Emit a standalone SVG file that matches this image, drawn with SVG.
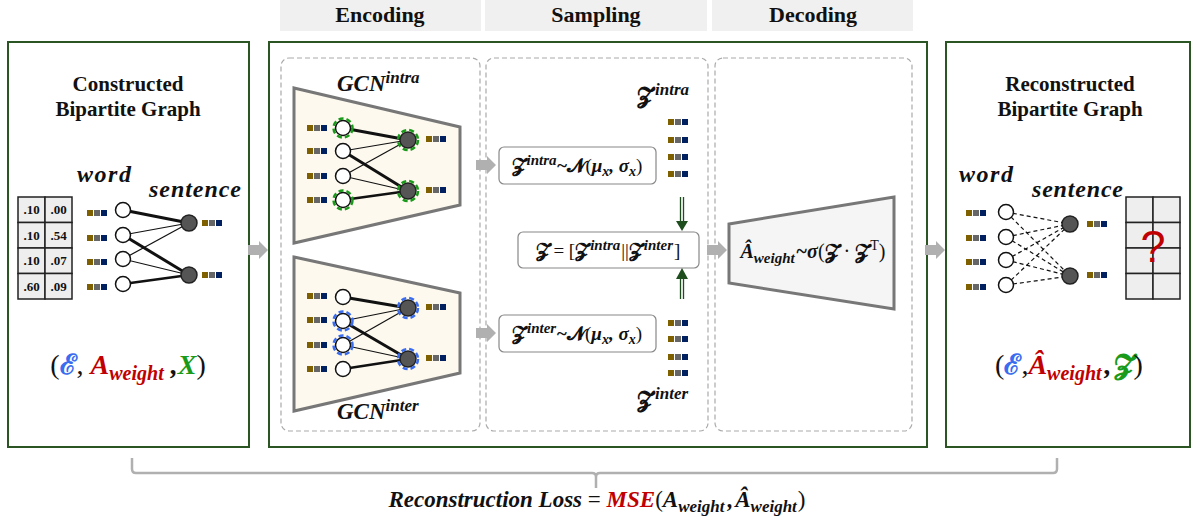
<svg xmlns="http://www.w3.org/2000/svg" xmlns:xlink="http://www.w3.org/1999/xlink" width="1196" height="522" viewBox="0 0 1196 522">
<style>
.box{fill:#fff;stroke:#2b5523;stroke-width:2}
.panel{fill:none;stroke:#aaa;stroke-width:1.2;stroke-dasharray:5 3}
.hdr{fill:#f0f0f0}
.hdrt{font-family:"Liberation Serif",serif;font-weight:bold;font-size:22px;text-anchor:middle;fill:#111}
.title{font-family:"Liberation Serif",serif;font-weight:bold;font-size:21px;text-anchor:middle;fill:#111}
.lbl{font-family:"Liberation Serif","DejaVu Serif",serif;font-weight:bold;font-style:italic;font-size:24px;fill:#111}
.math{font-family:"Liberation Serif","DejaVu Serif",serif;font-weight:bold;font-style:italic;fill:#111}
.sz{font-style:normal}
.up{font-style:normal;font-weight:normal}
.wn{fill:#fff;stroke:#111;stroke-width:1.5}
.sn{fill:#555;stroke:#222;stroke-width:1.5}
.thin{stroke:#111;stroke-width:1.2;fill:none}
.thick{stroke:#111;stroke-width:3;fill:none}
.dash{stroke:#111;stroke-width:1.2;stroke-dasharray:4 3;fill:none}
.ringg{fill:none;stroke:#1a9a1a;stroke-width:2.5;stroke-dasharray:5 3}
.ringb{fill:none;stroke:#3a6cf0;stroke-width:2.5;stroke-dasharray:5 3}
.trap{fill:#fdf9ee;stroke:#777;stroke-width:3}
.arr{fill:#b0b0b0}
.fbox{fill:#fff;stroke:#888;stroke-width:1.2}
.tbl{fill:#eee;stroke:#222;stroke-width:1.5}
.tv{font-family:"Liberation Serif",serif;font-weight:bold;font-size:13px;text-anchor:middle;fill:#111}
.gl{stroke:#1e4d1e;stroke-width:1.3}
.brace{fill:none;stroke:#b0b0b0;stroke-width:2.5}
</style>
<defs>
<g id="feat">
<rect x="0" y="-3" width="6" height="6" fill="#7f6000"/>
<rect x="7" y="-3" width="6" height="6" fill="#666"/>
<rect x="14" y="-3" width="6" height="6" fill="#002060"/>
</g>
<polygon id="garr" points="-20,-5 -9,-5 -9,-9 0,0 -9,9 -9,5 -20,5"/>
</defs>

<g id="headers">
<rect class="hdr" x="280" y="0" width="201" height="31"/>
<rect class="hdr" x="485" y="0" width="222" height="31"/>
<rect class="hdr" x="712" y="0" width="201" height="31"/>
<text class="hdrt" x="380" y="22">Encoding</text>
<text class="hdrt" x="596" y="22">Sampling</text>
<text class="hdrt" x="813" y="22">Decoding</text>
</g>

<g id="left-box">
<rect class="box" x="8" y="42" width="241" height="405"/>
<text class="title" x="128" y="91">Constructed</text>
<text class="title" x="128" y="116">Bipartite Graph</text>
</g>
<g id="middle-box">
<rect class="box" x="269" y="42" width="658" height="405"/>
<rect class="panel" x="281" y="58" width="199" height="373" rx="8"/>
<rect class="panel" x="486" y="58" width="222" height="373" rx="8"/>
<rect class="panel" x="715" y="58" width="197" height="373" rx="8"/>
</g>
<g id="right-box">
<rect class="box" x="946" y="42" width="244" height="405"/>
<text class="title" x="1070" y="91">Reconstructed</text>
<text class="title" x="1070" y="116">Bipartite Graph</text>
</g>

<g id="left-graph">
<g id="left-table">
<rect class="tbl" x="18" y="197" width="27" height="25.5"/>
<rect class="tbl" x="45" y="197" width="27" height="25.5"/>
<rect class="tbl" x="18" y="222.5" width="27" height="25.5"/>
<rect class="tbl" x="45" y="222.5" width="27" height="25.5"/>
<rect class="tbl" x="18" y="248" width="27" height="25.5"/>
<rect class="tbl" x="45" y="248" width="27" height="25.5"/>
<rect class="tbl" x="18" y="273.5" width="27" height="25.5"/>
<rect class="tbl" x="45" y="273.5" width="27" height="25.5"/>
<text class="tv" x="31.5" y="214">.10</text><text class="tv" x="58.5" y="214">.00</text>
<text class="tv" x="31.5" y="240">.10</text><text class="tv" x="58.5" y="240">.54</text>
<text class="tv" x="31.5" y="265">.10</text><text class="tv" x="58.5" y="265">.07</text>
<text class="tv" x="31.5" y="291">.60</text><text class="tv" x="58.5" y="291">.09</text>
</g>
<text class="lbl" x="77" y="182" textLength="54" lengthAdjust="spacing">word</text>
<text class="lbl" x="149" y="197" textLength="92" lengthAdjust="spacing">sentence</text>
<line class="thick" x1="123" y1="210" x2="189" y2="223"/>
<line class="thin" x1="123" y1="235" x2="189" y2="223"/>
<line class="thick" x1="123" y1="235" x2="189" y2="275"/>
<line class="thin" x1="123" y1="259" x2="189" y2="223"/>
<line class="thin" x1="123" y1="259" x2="189" y2="275"/>
<line class="thick" x1="123" y1="284" x2="189" y2="275" style="stroke-width:2.4"/>
<circle class="wn" cx="123" cy="210" r="7.5"/>
<circle class="wn" cx="123" cy="235" r="7.5"/>
<circle class="wn" cx="123" cy="259" r="7.5"/>
<circle class="wn" cx="123" cy="284" r="7.5"/>
<circle class="sn" cx="189" cy="223" r="8"/>
<circle class="sn" cx="189" cy="275" r="8"/>
<use href="#feat" x="87" y="213"/><use href="#feat" x="87" y="238"/><use href="#feat" x="87" y="262"/><use href="#feat" x="87" y="287"/>
<use href="#feat" x="202" y="223"/><use href="#feat" x="202" y="275"/>
<text class="math" x="128" y="374" text-anchor="middle" font-size="28"><tspan class="up">(</tspan><tspan class="sz" fill="#3a6cf0">ℰ</tspan><tspan class="up">, </tspan><tspan fill="#c00000">A</tspan><tspan fill="#c00000" font-size="20" dy="6">weight</tspan><tspan dy="-6"> ,</tspan><tspan fill="#1a9a1a">X</tspan><tspan class="up">)</tspan></text>
</g>

<g id="gcn-intra">
<polygon class="trap" points="294,88 460,127 460,205 294,243"/>
<text class="math" x="337" y="91" font-size="23">GCN<tspan font-size="17" dy="-8">intra</tspan></text>
<line class="thick" x1="343" y1="128" x2="408" y2="140"/>
<line class="thin" x1="343" y1="151" x2="408" y2="140"/>
<line class="thick" x1="343" y1="151" x2="408" y2="191"/>
<line class="thin" x1="343" y1="176" x2="408" y2="140"/>
<line class="thin" x1="343" y1="176" x2="408" y2="191"/>
<line class="thick" x1="343" y1="200" x2="408" y2="191" style="stroke-width:2.4"/>
<circle class="wn" cx="343" cy="128" r="7.5"/>
<circle class="wn" cx="343" cy="151" r="7.5"/>
<circle class="wn" cx="343" cy="176" r="7.5"/>
<circle class="wn" cx="343" cy="200" r="7.5"/>
<circle class="sn" cx="408" cy="140" r="8"/>
<circle class="sn" cx="408" cy="191" r="8"/>
<circle class="ringg" cx="343" cy="128" r="9.5"/>
<circle class="ringg" cx="343" cy="200" r="9.5"/>
<circle class="ringg" cx="408" cy="140" r="10"/>
<circle class="ringg" cx="408" cy="191" r="10"/>
<use href="#feat" x="307" y="128"/><use href="#feat" x="307" y="151"/><use href="#feat" x="307" y="176"/><use href="#feat" x="307" y="200"/>
<use href="#feat" x="426" y="139"/><use href="#feat" x="426" y="190"/>
</g>

<g id="gcn-inter">
<polygon class="trap" points="294,257 460,293 460,373 294,411"/>
<text class="math" x="337" y="419" font-size="23">GCN<tspan font-size="17" dy="-8">inter</tspan></text>
<line class="thick" x1="343" y1="297" x2="408" y2="308"/>
<line class="thin" x1="343" y1="321" x2="408" y2="308"/>
<line class="thick" x1="343" y1="321" x2="408" y2="359"/>
<line class="thin" x1="343" y1="345" x2="408" y2="308"/>
<line class="thin" x1="343" y1="345" x2="408" y2="359"/>
<line class="thick" x1="343" y1="369" x2="408" y2="359" style="stroke-width:2.4"/>
<circle class="wn" cx="343" cy="297" r="7.5"/>
<circle class="wn" cx="343" cy="321" r="7.5"/>
<circle class="wn" cx="343" cy="345" r="7.5"/>
<circle class="wn" cx="343" cy="369" r="7.5"/>
<circle class="sn" cx="408" cy="308" r="8"/>
<circle class="sn" cx="408" cy="359" r="8"/>
<circle class="ringb" cx="343" cy="321" r="9.5"/>
<circle class="ringb" cx="343" cy="345" r="9.5"/>
<circle class="ringb" cx="408" cy="308" r="10"/>
<circle class="ringb" cx="408" cy="359" r="10"/>
<use href="#feat" x="307" y="296"/><use href="#feat" x="307" y="320"/><use href="#feat" x="307" y="345"/><use href="#feat" x="307" y="369"/>
<use href="#feat" x="426" y="307"/><use href="#feat" x="426" y="358"/>
</g>

<g id="z-intra-box">
<rect class="fbox" x="499" y="147" width="157" height="37" rx="5"/>
<text class="math" x="577" y="172" text-anchor="middle" font-size="19"><tspan class="sz">𝓩</tspan><tspan font-size="15" dy="-7" dx="2">intra</tspan><tspan dy="7">~</tspan><tspan class="sz">𝓝</tspan><tspan class="up">(</tspan>μ<tspan font-size="14" dy="4">x</tspan><tspan dy="-4">, σ</tspan><tspan font-size="14" dy="4">x</tspan><tspan class="up" dy="-4">)</tspan></text>
</g>
<g id="z-inter-box">
<rect class="fbox" x="499" y="315" width="157" height="37" rx="5"/>
<text class="math" x="577" y="340" text-anchor="middle" font-size="19"><tspan class="sz">𝓩</tspan><tspan font-size="15" dy="-7" dx="2">inter</tspan><tspan dy="7">~</tspan><tspan class="sz">𝓝</tspan><tspan class="up">(</tspan>μ<tspan font-size="14" dy="4">x</tspan><tspan dy="-4">, σ</tspan><tspan font-size="14" dy="4">x</tspan><tspan class="up" dy="-4">)</tspan></text>
</g>
<g id="z-concat-box">
<rect class="fbox" x="518" y="232" width="181" height="36" rx="5"/>
<text class="math" x="608" y="257" text-anchor="middle" font-size="19"><tspan class="sz">𝓩</tspan><tspan class="up"> = [</tspan><tspan class="sz">𝓩</tspan><tspan font-size="15" dy="-7" dx="2">intra</tspan><tspan class="up" dy="7" dx="1">||</tspan><tspan class="sz">𝓩</tspan><tspan font-size="15" dy="-7" dx="2">inter</tspan><tspan class="up" dy="7" dx="1">]</tspan></text>
</g>
<g id="z-intra-emb">
<text class="math" x="637" y="103" font-size="22"><tspan class="sz">𝓩</tspan><tspan font-size="17" dy="-8" dx="2">intra</tspan></text>
<use href="#feat" x="668" y="122"/><use href="#feat" x="668" y="140"/><use href="#feat" x="668" y="157"/><use href="#feat" x="668" y="174"/>
</g>
<g id="z-inter-emb">
<use href="#feat" x="668" y="323"/><use href="#feat" x="668" y="339"/><use href="#feat" x="668" y="357"/><use href="#feat" x="668" y="373"/>
<text class="math" x="637" y="407" font-size="22"><tspan class="sz">𝓩</tspan><tspan font-size="17" dy="-8" dx="2">inter</tspan></text>
</g>

<g id="decoder">
<polygon points="729,224 894,197 894,309 729,283" style="fill:#f5f5f5;stroke:#777;stroke-width:3"/>
<text class="math" x="813" y="258" text-anchor="middle" font-size="20">Â<tspan font-size="15" dy="5">weight</tspan><tspan dy="-5" dx="1">~σ</tspan><tspan class="up">(</tspan><tspan class="sz">𝓩</tspan><tspan class="up"> · </tspan><tspan class="sz">𝓩</tspan><tspan class="up" font-size="14" dy="-8" dx="1">T</tspan><tspan class="up" dy="8">)</tspan></text>
</g>

<g id="right-graph">
<text class="lbl" x="959" y="182" textLength="54" lengthAdjust="spacing">word</text>
<text class="lbl" x="1032" y="197" textLength="91" lengthAdjust="spacing">sentence</text>
<line class="dash" x1="1006" y1="212" x2="1070" y2="224"/>
<line class="dash" x1="1006" y1="212" x2="1070" y2="276"/>
<line class="dash" x1="1006" y1="237" x2="1070" y2="224"/>
<line class="dash" x1="1006" y1="237" x2="1070" y2="276"/>
<line class="dash" x1="1006" y1="260" x2="1070" y2="224"/>
<line class="dash" x1="1006" y1="260" x2="1070" y2="276"/>
<line class="dash" x1="1006" y1="285" x2="1070" y2="224"/>
<line class="dash" x1="1006" y1="285" x2="1070" y2="276"/>
<circle class="wn" cx="1006" cy="212" r="7.5"/>
<circle class="wn" cx="1006" cy="237" r="7.5"/>
<circle class="wn" cx="1006" cy="260" r="7.5"/>
<circle class="wn" cx="1006" cy="285" r="7.5"/>
<circle class="sn" cx="1070" cy="224" r="8"/>
<circle class="sn" cx="1070" cy="276" r="8"/>
<use href="#feat" x="966" y="213"/><use href="#feat" x="966" y="238"/><use href="#feat" x="966" y="262"/><use href="#feat" x="966" y="287"/>
<use href="#feat" x="1087" y="224"/><use href="#feat" x="1087" y="275"/>
<g id="right-table">
<rect class="tbl" x="1126" y="197" width="27" height="25.5"/>
<rect class="tbl" x="1153" y="197" width="27" height="25.5"/>
<rect class="tbl" x="1126" y="222.5" width="27" height="25.5"/>
<rect class="tbl" x="1153" y="222.5" width="27" height="25.5"/>
<rect class="tbl" x="1126" y="248" width="27" height="25.5"/>
<rect class="tbl" x="1153" y="248" width="27" height="25.5"/>
<rect class="tbl" x="1126" y="273.5" width="27" height="25.5"/>
<rect class="tbl" x="1153" y="273.5" width="27" height="25.5"/>
<text x="1153" y="262" text-anchor="middle" font-family="Liberation Sans, sans-serif" font-size="45" fill="#c00000">?</text>
</g>
<text class="math" x="1069" y="374" text-anchor="middle" font-size="28"><tspan class="up">(</tspan><tspan class="sz" fill="#3a6cf0">ℰ</tspan><tspan class="up">,</tspan><tspan fill="#c00000">Â</tspan><tspan fill="#c00000" font-size="20" dy="6">weight</tspan><tspan dy="-6" dx="3">,</tspan><tspan class="sz" fill="#1a9a1a" dx="2">𝓩</tspan><tspan class="up">)</tspan></text>
</g>

<g id="connectors">
<use href="#garr" class="arr" x="268" y="250"/>
<use href="#garr" class="arr" x="496" y="165"/>
<use href="#garr" class="arr" x="496" y="333"/>
<use href="#garr" class="arr" x="727" y="250"/>
<use href="#garr" class="arr" x="945" y="250"/>
<line class="gl" x1="680.5" y1="197" x2="680.5" y2="223"/>
<line class="gl" x1="683.5" y1="197" x2="683.5" y2="223"/>
<polygon points="676,221 688,221 682,231" fill="#1e4d1e"/>
<line class="gl" x1="680.5" y1="299" x2="680.5" y2="277"/>
<line class="gl" x1="683.5" y1="299" x2="683.5" y2="277"/>
<polygon points="676,279 688,279 682,268" fill="#1e4d1e"/>
<path class="brace" d="M132,458 V469 Q132,473 136,473 H592 Q596,473 596,477 V488 M596,477 Q596,473 600,473 H1053 Q1057,473 1057,469 V458"/>
</g>

<g id="loss">
<text class="math" x="597" y="507" text-anchor="middle" font-size="23">Reconstruction Loss <tspan class="up">=</tspan> <tspan fill="#c00000">MSE</tspan><tspan class="up">(</tspan>A<tspan font-size="17" dy="5">weight</tspan><tspan dy="-5" dx="3">,</tspan><tspan dx="2">Â</tspan><tspan font-size="17" dy="5">weight</tspan><tspan class="up" dy="-5" dx="1">)</tspan></text>
</g>
</svg>
